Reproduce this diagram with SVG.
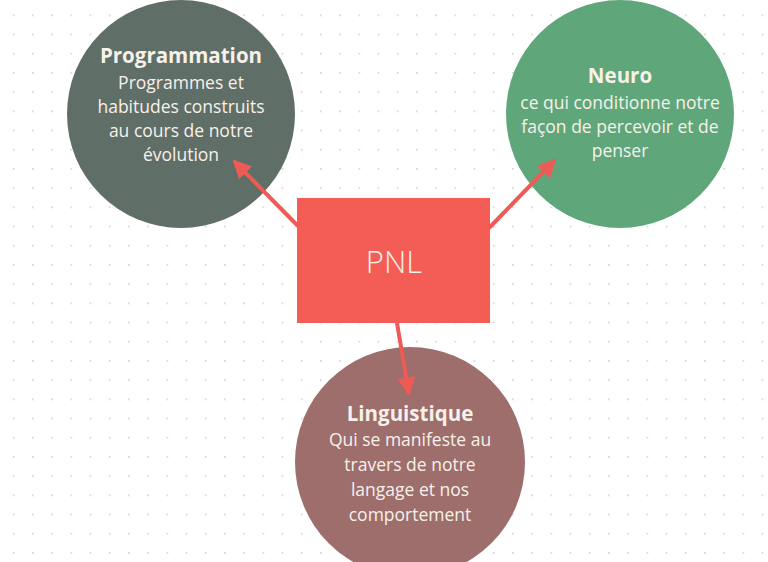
<svg xmlns="http://www.w3.org/2000/svg" width="768" height="562" viewBox="0 0 768 562">
<defs>
<pattern id="dots" x="12.8" y="14.5" width="19.2" height="19.2" patternUnits="userSpaceOnUse">
<circle cx="0.8" cy="0.8" r="1" fill="#d2d2d2"/>
</pattern>
<marker id="ah" viewBox="0 0 10 10" refX="9" refY="5" markerWidth="4.6" markerHeight="4.6" markerUnits="strokeWidth" orient="auto">
<path d="M0,0 L10,5 L0,10 Z" fill="#ee5a55"/>
</marker>
</defs>
<style>
.t{font-family:"Open Sans","Noto Sans","DejaVu Sans",sans-serif;fill:#f7f1ea;text-anchor:middle}
.h{font-weight:700;font-size:20.5px}
.b{font-size:17.5px}
.c{stroke:#ee5a55;stroke-width:4;fill:none;marker-end:url(#ah)}
</style>
<rect width="768" height="562" fill="#ffffff"/>
<rect width="768" height="562" fill="url(#dots)"/>
<g id="programmation">
<circle cx="181" cy="114" r="114" fill="#5f6e66"/>
<text class="t h" x="181" y="63">Programmation</text>
<text class="t b" x="181" y="89">Programmes et</text>
<text class="t b" x="181" y="113">habitudes construits</text>
<text class="t b" x="181" y="137">au cours de notre</text>
<text class="t b" x="181" y="161">évolution</text>
</g>
<g id="neuro">
<circle cx="620" cy="114" r="114" fill="#5fa77b"/>
<text class="t h" x="620" y="83">Neuro</text>
<text class="t b" x="620" y="109">ce qui conditionne notre</text>
<text class="t b" x="620" y="133">façon de percevoir et de</text>
<text class="t b" x="620" y="157">penser</text>
</g>
<g id="linguistique">
<circle cx="410" cy="462" r="115" fill="#9d6e6c"/>
<text class="t h" x="410" y="421">Linguistique</text>
<text class="t b" x="410" y="446">Qui se manifeste au</text>
<text class="t b" x="410" y="471">travers de notre</text>
<text class="t b" x="410" y="496">langage et nos</text>
<text class="t b" x="410" y="521">comportement</text>
</g>
<g id="pnl">
<rect x="297" y="198" width="193" height="125" fill="#f45d56"/>
<text class="t" x="394" y="273" font-size="31" font-weight="300">PNL</text>
</g>
<g id="connectors">
<line class="c" x1="298" y1="226" x2="234" y2="161"/>
<line class="c" x1="489" y1="228" x2="555" y2="160"/>
<line class="c" x1="397" y1="323" x2="409" y2="394"/>
</g>
</svg>
